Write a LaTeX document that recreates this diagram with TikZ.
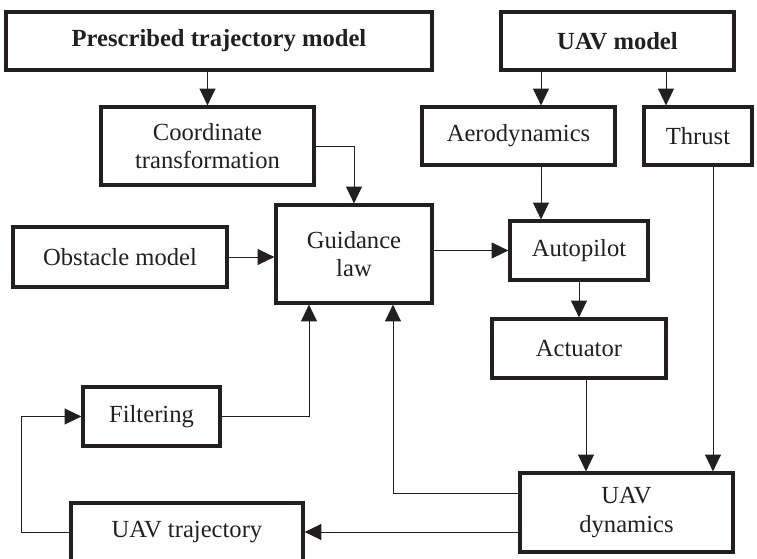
\documentclass[tikz,border=0pt]{standalone}
\usepackage{fontspec}
\setmainfont{Liberation Serif}
\usetikzlibrary{arrows.meta}
\definecolor{ink}{RGB}{35,31,32}

\begin{document}
\begin{tikzpicture}[>={Triangle[length=9.5pt,width=9pt]},
    block/.style={draw=ink, text=ink, line width=1.8pt, align=center, inner sep=0pt,
                  font=\fontsize{14}{16}\selectfont},
    link/.style={->, draw=ink, line width=0.5pt}]
    \useasboundingbox (0,0) rectangle (15.14,11.16);

    \node[block,font=\fontsize{14}{16}\selectfont\bfseries,minimum width=8.52cm,minimum height=1.16cm] (pre) at (4.38,10.34) {Prescribed trajectory model};
    \node[block,font=\fontsize{14}{16}\selectfont\bfseries,minimum width=4.66cm,minimum height=1.16cm] (uav) at (12.35,10.34) {UAV model};
    \node[block,minimum width=4.26cm,minimum height=1.56cm] (coord) at (4.15,8.24) {Coordinate\\transformation};
    \node[block,minimum width=3.86cm,minimum height=1.16cm] (aero) at (10.37,8.44) {Aerodynamics};
    \node[block,minimum width=2.16cm,minimum height=1.16cm] (thrust) at (13.96,8.44) {Thrust};
    \node[block,minimum width=3.12cm,minimum height=1.96cm] (guid) at (7.08,6.08) {Guidance\\law};
    \node[block,minimum width=4.28cm,minimum height=1.2cm] (obs) at (2.40,6.02) {Obstacle model};
    \node[block,minimum width=2.76cm,minimum height=1.18cm] (auto) at (11.58,6.15) {Autopilot};
    \node[block,minimum width=3.48cm,minimum height=1.18cm] (act) at (11.58,4.19) {Actuator};
    \node[block,minimum width=4.26cm,minimum height=1.58cm] (dyn) at (12.53,0.91) {UAV\\dynamics};
    \node[block,minimum width=2.74cm,minimum height=1.18cm] (filt) at (3.03,2.83) {Filtering};
    \node[block,minimum width=4.64cm,minimum height=1.16cm] (traj) at (3.74,0.52) {UAV trajectory};

    % columns and rows used by the connectors
    \coordinate (xa) at (10.82,0);
    \coordinate (xt) at (13.32,0);
    \coordinate (xth) at (14.26,0);
    \coordinate (xac) at (11.72,0);
    \coordinate (xd) at (7.86,0);
    \coordinate (xf) at (6.18,0);
    \coordinate (xl) at (0.42,0);
    \coordinate (yd) at (0,1.30);

    \draw[link] (coord.north |- pre.south) -- (coord.north);
    \draw[link] (coord.east) -| (guid.north);
    \draw[link] (uav.south -| xa) -- (aero.north -| xa);
    \draw[link] (uav.south -| xt) -- (thrust.north -| xt);
    \draw[link] (aero.south -| xa) -- (auto.north -| xa);
    \draw[link] (obs.east) -- (obs.east -| guid.west);
    \draw[link] (guid.east |- auto.west) -- (auto.west);
    \draw[link] (auto.south) -- (act.north);
    \draw[link] (act.south -| xac) -- (dyn.north -| xac);
    \draw[link] (thrust.south -| xth) -- (dyn.north -| xth);
    \draw[link] (dyn.west |- yd) -| (guid.south -| xd);
    \draw[link] (filt.east) -| (guid.south -| xf);
    \draw[link] (dyn.west |- traj.east) -- (traj.east);
    \draw[link] (traj.west) -- (traj.west -| xl) |- (filt.west);
\end{tikzpicture}
\end{document}
